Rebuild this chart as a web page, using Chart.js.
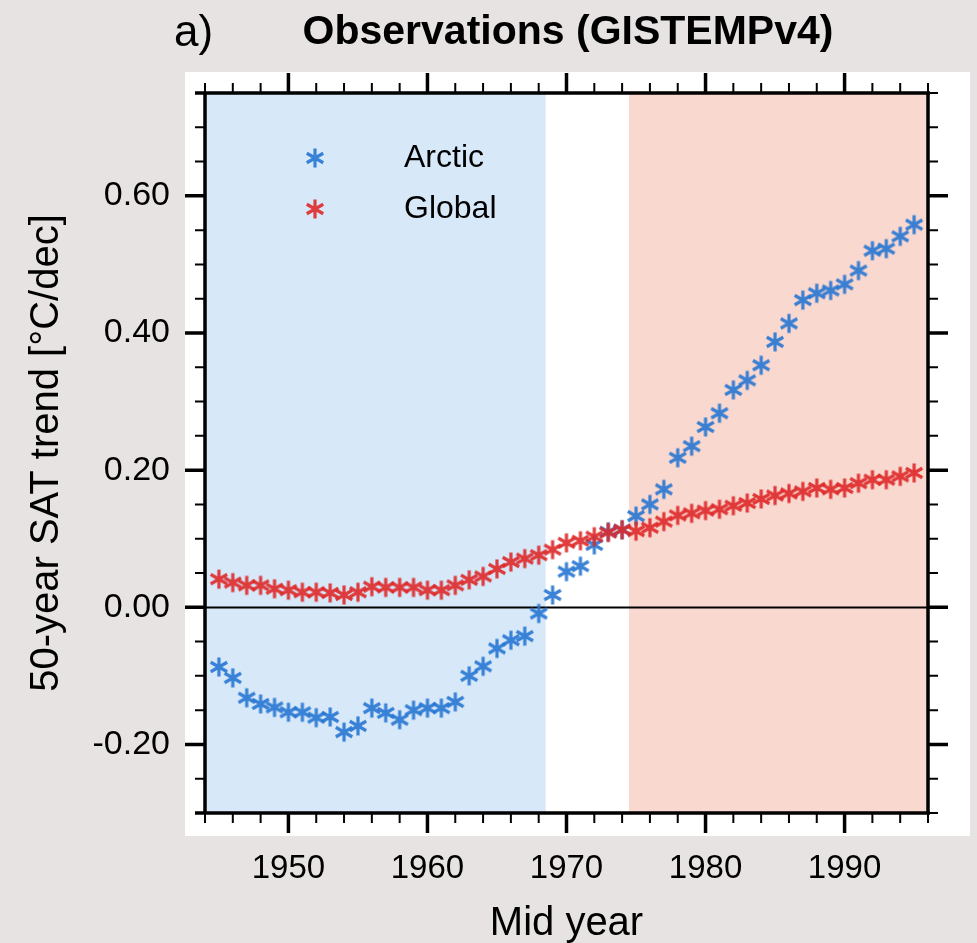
<!DOCTYPE html>
<html>
<head>
<meta charset="utf-8">
<script src="https://cdn.jsdelivr.net/npm/chart.js@4.4.1/dist/chart.umd.min.js"></script>
<style>
  html, body { margin: 0; padding: 0; background: #e8e3e3; }
  canvas { display: block; }
</style>
</head>
<body>
<canvas id="trendChart" width="977" height="943"></canvas>
<script>
// mid years of the 50-year windows
var years = [1945, 1946, 1947, 1948, 1949, 1950, 1951, 1952, 1953, 1954,
             1955, 1956, 1957, 1958, 1959, 1960, 1961, 1962, 1963, 1964,
             1965, 1966, 1967, 1968, 1969, 1970, 1971, 1972, 1973, 1974,
             1975, 1976, 1977, 1978, 1979, 1980, 1981, 1982, 1983, 1984,
             1985, 1986, 1987, 1988, 1989, 1990, 1991, 1992, 1993, 1994, 1995];

// 50-year SAT trend, degC per decade
var arctic = [-0.087, -0.103, -0.132, -0.141, -0.146, -0.153, -0.153, -0.161, -0.160, -0.182,
              -0.173, -0.147, -0.154, -0.164, -0.150, -0.147, -0.147, -0.138, -0.100, -0.086,
              -0.060, -0.048, -0.042, -0.009, 0.018, 0.052, 0.060, 0.091, 0.110, 0.113,
              0.133, 0.150, 0.172, 0.218, 0.235, 0.263, 0.283, 0.317, 0.331, 0.353,
              0.387, 0.414, 0.448, 0.458, 0.462, 0.471, 0.491, 0.520, 0.523, 0.541, 0.558];

var global = [0.041, 0.036, 0.032, 0.032, 0.027, 0.025, 0.022, 0.022, 0.021, 0.018,
              0.022, 0.030, 0.029, 0.029, 0.029, 0.025, 0.025, 0.032, 0.040, 0.045,
              0.056, 0.066, 0.071, 0.076, 0.084, 0.094, 0.097, 0.103, 0.109, 0.113,
              0.111, 0.116, 0.125, 0.134, 0.137, 0.141, 0.143, 0.148, 0.152, 0.158,
              0.163, 0.166, 0.169, 0.174, 0.172, 0.174, 0.181, 0.186, 0.186, 0.191, 0.196];

var seriesNames = ['Arctic', 'Global'];
var xTickValues = [1950, 1960, 1970, 1980, 1990];
var yTickValues = [-0.2, 0.0, 0.2, 0.4, 0.6];
var coolPeriod = [1944, 1968.5];
var warmPeriod = [1974.5, 1996];

var blue = 'rgba(38, 118, 210, 0.9)';
var red = 'rgba(222, 40, 40, 0.9)';
var FONT = '"Liberation Sans", Arial, sans-serif';

function asterisk(color) {
    var c = document.createElement('canvas');
    c.width = 22;
    c.height = 22;
    var g = c.getContext('2d');
    g.strokeStyle = color;
    g.lineWidth = 3.2;
    g.beginPath();
    for (var k = 0; k < 3; k++) {
        var a = Math.PI / 2 + k * Math.PI / 3;
        g.moveTo(11 + 9.5 * Math.cos(a), 11 + 9.5 * Math.sin(a));
        g.lineTo(11 - 9.5 * Math.cos(a), 11 - 9.5 * Math.sin(a));
    }
    g.stroke();
    return c;
}

var blueStar = asterisk(blue);
var redStar = asterisk(red);

function points(vals) {
    return years.map(function (yr, i) { return { x: yr, y: vals[i] }; });
}

var panelPlugin = {
    id: 'panel',
    beforeDraw: function (chart) {
        var ctx = chart.ctx;
        ctx.save();
        ctx.fillStyle = '#e8e3e3';
        ctx.fillRect(0, 0, chart.width, chart.height);
        ctx.fillStyle = '#ffffff';
        ctx.fillRect(185, 72, 785, 764);
        ctx.restore();
    },
    beforeDatasetsDraw: function (chart) {
        var ctx = chart.ctx, a = chart.chartArea;
        var x = chart.scales.x, y = chart.scales.y;
        ctx.save();
        ctx.fillStyle = '#d7e8f8';
        var x0 = x.getPixelForValue(coolPeriod[0]), x1 = x.getPixelForValue(coolPeriod[1]);
        ctx.fillRect(x0, a.top, x1 - x0, a.bottom - a.top);
        ctx.fillStyle = '#f9d8d0';
        x0 = x.getPixelForValue(warmPeriod[0]);
        x1 = x.getPixelForValue(warmPeriod[1]);
        ctx.fillRect(x0, a.top, x1 - x0, a.bottom - a.top);
        // zero line
        var yz = Math.round(y.getPixelForValue(0)) + 0.5;
        ctx.strokeStyle = '#000';
        ctx.lineWidth = 2;
        ctx.beginPath();
        ctx.moveTo(a.left, yz);
        ctx.lineTo(a.right, yz);
        ctx.stroke();
        ctx.restore();
    },
    afterDatasetsDraw: function (chart) {
        var ctx = chart.ctx, a = chart.chartArea;
        var x = chart.scales.x, y = chart.scales.y;
        ctx.save();
        ctx.strokeStyle = '#000';
        ctx.lineCap = 'butt';

        // ticks, outward on all four sides
        var v, px, major;
        for (v = 1944; v <= 1996; v += 2) {
            px = x.getPixelForValue(v);
            major = v % 10 === 0;
            ctx.lineWidth = major ? 3.5 : 2;
            var len = major ? 20 : 10;
            ctx.beginPath();
            ctx.moveTo(px, a.bottom); ctx.lineTo(px, a.bottom + len);
            ctx.moveTo(px, a.top); ctx.lineTo(px, a.top - len);
            ctx.stroke();
        }
        for (var k = -6; k <= 15; k++) {
            v = k * 0.05;
            px = y.getPixelForValue(v);
            major = k % 4 === 0;
            ctx.lineWidth = major ? 3.5 : 2;
            var ln = major ? 20 : 10;
            ctx.beginPath();
            ctx.moveTo(a.left, px); ctx.lineTo(a.left - ln, px);
            ctx.moveTo(a.right, px); ctx.lineTo(a.right + ln, px);
            ctx.stroke();
        }

        // frame
        ctx.lineWidth = 3.5;
        ctx.beginPath();
        ctx.moveTo(a.left - 10, a.top); ctx.lineTo(a.right + 2, a.top);
        ctx.moveTo(a.left - 10, a.bottom); ctx.lineTo(a.right + 2, a.bottom);
        ctx.moveTo(a.left, a.top); ctx.lineTo(a.left, a.bottom);
        ctx.moveTo(a.right, a.top); ctx.lineTo(a.right, a.bottom);
        ctx.stroke();

        // legend
        var stars = [blueStar, redStar];
        ctx.fillStyle = '#000';
        ctx.font = '32px ' + FONT;
        ctx.textBaseline = 'middle';
        ctx.textAlign = 'left';
        for (var i = 0; i < seriesNames.length; i++) {
            var ly = a.top + 65 + i * 51;
            ctx.drawImage(stars[i], a.left + 99, ly - 11);
            ctx.fillText(seriesNames[i], a.left + 199, ly);
        }

        // panel label and title
        ctx.textBaseline = 'alphabetic';
        ctx.font = '44px ' + FONT;
        ctx.fillText('a)', 174, 46);
        ctx.textAlign = 'center';
        ctx.font = 'bold 41px ' + FONT;
        ctx.fillText('Observations (GISTEMPv4)', 568, 44);
        ctx.restore();
    }
};

var ctx = document.getElementById('trendChart').getContext('2d');
var chart = new Chart(ctx, {
    type: 'scatter',
    data: {
        datasets: [{
            label: seriesNames[0],
            data: points(arctic),
            pointStyle: blueStar,
            order: 1
        }, {
            label: seriesNames[1],
            data: points(global),
            pointStyle: redStar,
            order: 0
        }]
    },
    options: {
        responsive: false,
        animation: false,
        devicePixelRatio: 1,
        layout: { padding: { top: 93, right: 49, bottom: 0, left: 0 } },
        plugins: {
            legend: { display: false },
            tooltip: { enabled: false }
        },
        scales: {
            x: {
                type: 'linear',
                min: 1944,
                max: 1996,
                afterBuildTicks: function (s) {
                    s.ticks = xTickValues.map(function (v) { return { value: v }; });
                },
                afterFit: function (s) { s.height = 130; },
                grid: { display: false, drawTicks: false },
                border: { display: false },
                ticks: {
                    color: '#000',
                    padding: 36,
                    maxRotation: 0,
                    font: { family: FONT, size: 33 },
                    callback: function (v) { return String(v); }
                },
                title: {
                    display: true,
                    text: 'Mid year',
                    color: '#000',
                    padding: { top: 2, bottom: -5 },
                    font: { family: FONT, size: 40 }
                }
            },
            y: {
                min: -0.3,
                max: 0.75,
                afterBuildTicks: function (s) {
                    s.ticks = yTickValues.map(function (v) { return { value: v }; });
                },
                afterFit: function (s) { s.width = 205; },
                grid: { display: false, drawTicks: false },
                border: { display: false },
                ticks: {
                    color: '#000',
                    padding: 35,
                    font: { family: FONT, size: 34 },
                    callback: function (v) { return v.toFixed(2); }
                },
                title: {
                    display: true,
                    text: '50-year SAT trend [°C/dec]',
                    color: '#000',
                    padding: { top: 23, bottom: 23 },
                    font: { family: FONT, size: 40 }
                }
            }
        }
    },
    plugins: [panelPlugin]
});
</script>
</body>
</html>
